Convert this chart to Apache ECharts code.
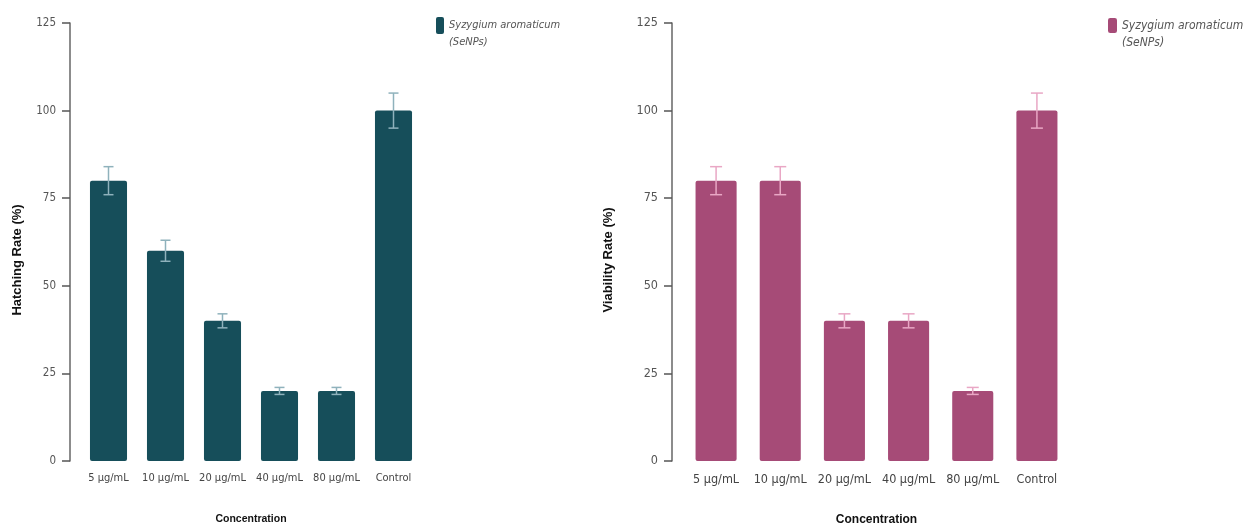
<!DOCTYPE html>
<html>
<head>
<meta charset="utf-8">
<script src="https://cdn.jsdelivr.net/npm/echarts@6/dist/echarts.min.js"></script>
<style>
html,body{margin:0;padding:0;background:#fff;}
#chart{width:1248px;height:526px;}
</style>
</head>
<body>
<div id="chart"></div>
<script>
const categories = ['5 µg/mL', '10 µg/mL', '20 µg/mL', '40 µg/mL', '80 µg/mL', 'Control'];
const hatchingRate = [80, 60, 40, 20, 20, 100];
const hatchingErr = [4, 3, 2, 1, 1, 5];
const viabilityRate = [80, 80, 40, 40, 20, 100];
const viabilityErr = [4, 4, 2, 2, 1, 5];
const yMin = 0, yMax = 125, yStep = 25;
const seriesName = 'Syzygium aromaticum\n(SeNPs)';

const FONT = "'Liberation Sans Narrow', 'DejaVu Sans Condensed', 'Liberation Sans', Arial, sans-serif";
const BOLD = "'Liberation Sans', Arial, sans-serif";

function errorSeries(idx, vals, errs, color, capHalf) {
  return {
    type: 'custom',
    xAxisIndex: idx, yAxisIndex: idx,
    z: 5,
    silent: true,
    data: vals.map((v, i) => [i, v, errs[i]]),
    renderItem: function (params, api) {
      const x = api.value(0), v = api.value(1), e = api.value(2);
      const top = api.coord([x, v + e]);
      const bot = api.coord([x, v - e]);
      const style = { stroke: color, lineWidth: 1.5 };
      return {
        type: 'group',
        children: [
          { type: 'line', shape: { x1: top[0], y1: top[1], x2: bot[0], y2: bot[1] }, style },
          { type: 'line', shape: { x1: top[0] - capHalf, y1: top[1], x2: top[0] + capHalf, y2: top[1] }, style },
          { type: 'line', shape: { x1: bot[0] - capHalf, y1: bot[1], x2: bot[0] + capHalf, y2: bot[1] }, style }
        ]
      };
    }
  };
}

function yAxis(idx, name, offset, gap, labelSize) {
  return {
    type: 'value', gridIndex: idx, min: yMin, max: yMax, interval: yStep,
    offset: offset,
    name: name, nameLocation: 'middle', nameGap: gap, nameRotate: 90,
    nameTextStyle: { fontFamily: BOLD, fontWeight: 'bold', fontSize: 13, color: '#111', padding: [0, 36, 0, 0] },
    axisLine: { show: true, lineStyle: { color: '#666', width: 1.5 } },
    axisTick: { show: true, length: 8, lineStyle: { color: '#555', width: 1.5 } },
    axisLabel: { margin: 14, fontFamily: FONT, fontSize: labelSize, color: '#555' },
    splitLine: { show: false }
  };
}

function xAxis(idx, labelSize, nameSize) {
  return {
    type: 'category', gridIndex: idx, data: categories,
    axisLine: { show: false }, axisTick: { show: false },
    axisLabel: { interval: 0, margin: 12, fontFamily: FONT, fontSize: labelSize, color: '#444' },
    name: 'Concentration', nameLocation: 'middle', nameGap: 53,
    nameTextStyle: { fontFamily: BOLD, fontWeight: 'bold', fontSize: nameSize, color: '#111' }
  };
}

function legendText(size) {
  return { fontFamily: FONT, fontStyle: 'italic', fontSize: size, color: '#555', lineHeight: 17 };
}

const option = {
  animation: false,
  backgroundColor: '#fff',
  grid: [
    { left: 80, top: 23, width: 342, height: 438, outerBoundsMode: 'none', containLabel: false },
    { left: 684, top: 23, width: 385, height: 438, outerBoundsMode: 'none', containLabel: false }
  ],
  legend: [
    { left: 431, top: -5, itemWidth: 8, itemHeight: 17, itemGap: 5, data: [{ name: seriesName }], textStyle: legendText(11), selectedMode: false, formatter: n => '\n' + n },
    { left: 1103, top: -5, itemWidth: 9, itemHeight: 15, itemGap: 6, data: [{ name: seriesName + ' ' }], textStyle: legendText(12), selectedMode: false, formatter: n => '\n' + n.trim() }
  ],
  xAxis: [xAxis(0, 11, 10.5), xAxis(1, 12.5, 12)],
  yAxis: [yAxis(0, 'Hatching Rate (%)', 10, 46, 11.5), yAxis(1, 'Viability Rate (%)', 12, 57, 12.5)],
  series: [
    {
      name: seriesName, type: 'bar', xAxisIndex: 0, yAxisIndex: 0,
      data: hatchingRate, barCategoryGap: '35%',
      itemStyle: { color: '#164E5A', borderRadius: 2 }
    },
    errorSeries(0, hatchingRate, hatchingErr, '#8fb2bc', 5),
    {
      name: seriesName + ' ', type: 'bar', xAxisIndex: 1, yAxisIndex: 1,
      data: viabilityRate, barCategoryGap: '36%',
      itemStyle: { color: '#A64B77', borderRadius: 2 }
    },
    errorSeries(1, viabilityRate, viabilityErr, '#e9a7c5', 6)
  ]
};

const chart = echarts.init(document.getElementById('chart'), null, { renderer: 'canvas' });
chart.setOption(option);
</script>
</body>
</html>
